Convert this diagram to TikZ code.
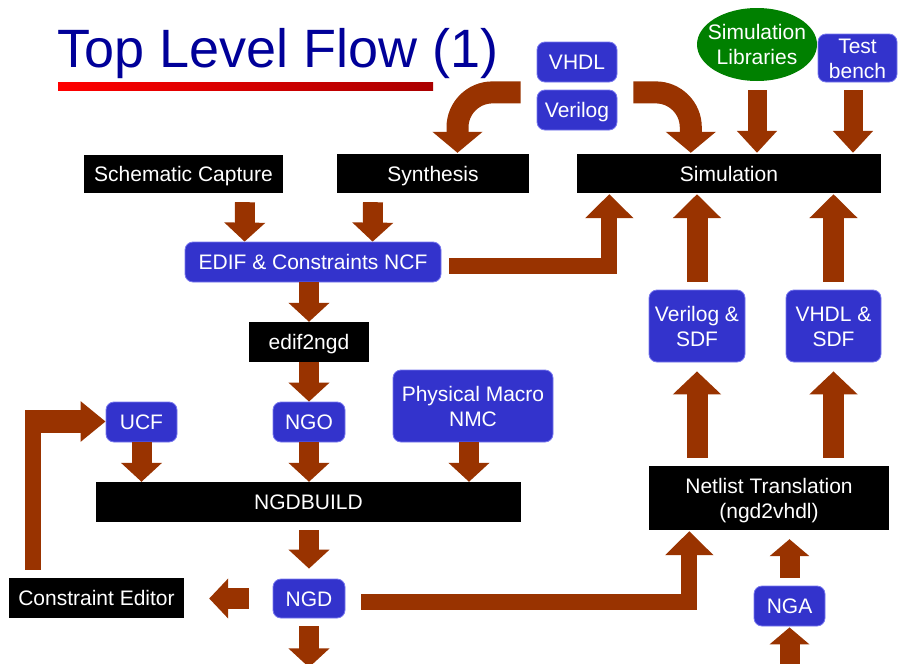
\documentclass[tikz,border=0pt]{standalone}
\usepackage{fontspec}
\setmainfont{Liberation Sans}
\usetikzlibrary{arrows.meta,calc,shapes.geometric}
\definecolor{arrowc}{HTML}{993300}
\definecolor{boxblue}{HTML}{3333CC}
\definecolor{boxedge}{HTML}{7777EE}
\definecolor{libgreen}{HTML}{008000}
\definecolor{titleblue}{HTML}{000099}
\definecolor{darkred}{HTML}{AA0000}
\begin{document}
\begin{tikzpicture}[x=1pt,y=-1pt,
  txt/.style={text=white, font=\fontsize{21}{25}\selectfont, align=center, inner sep=0pt, anchor=center},
  one/.style={text height=15pt, text depth=0pt},
  two/.style={text height=40pt, text depth=0pt},
  bluebox/.style={txt, fill=boxblue, draw=boxedge, line width=0.8pt, rounded corners=8pt},
  blackbox/.style={txt, fill=black},
  libell/.style={txt, ellipse, fill=libgreen, draw=none, inner xsep=-8pt},
  barrow/.style={draw=arrowc, line width=20pt, -{Triangle[width=40pt,length=19pt]}},
  bigarrow/.style={draw=arrowc, line width=21pt, -{Triangle[width=47pt,length=24pt]}},
  elbowarrow/.style={draw=arrowc, line width=16pt, -{Triangle[width=47pt,length=24pt]}},
  bentarrow/.style={draw=arrowc, line width=22pt, rounded corners=35pt, -{Triangle[width=49pt,length=21pt]}},
]
\clip (0,0) rectangle (908,664);
\fill[white] (0,0) rectangle (908,664);

% title
\node[anchor=base west, text=titleblue, font=\fontsize{54}{60}\selectfont, inner sep=0pt] (title) at (57,67) {Top Level Flow (1)};
\shade[left color=red, right color=darkred] (58,82) rectangle (433,90);

% nodes
\node[bluebox, one, minimum width=80pt, minimum height=40pt] (vhdl) at (577,62) {VHDL};
\node[bluebox, one, minimum width=80pt, minimum height=40pt] (verilog) at (577,110) {Verilog};
\node[libell, two, minimum width=120pt, minimum height=73pt] (simlib) at (757,44.5) {Simulation\\Libraries};
\node[bluebox, two, minimum width=79pt, minimum height=48pt] (tb) at (857.5,58) {Test\\bench};
\node[blackbox, one, minimum width=199pt, minimum height=38pt] (sch) at (183.5,174) {Schematic Capture};
\node[blackbox, one, minimum width=192pt, minimum height=39pt] (syn) at (433,173.5) {Synthesis};
\node[blackbox, one, minimum width=304pt, minimum height=39pt] (sim) at (729,173.5) {Simulation};
\node[bluebox, one, minimum width=256pt, minimum height=40pt] (edif) at (313,262) {EDIF \& Constraints NCF};
\node[blackbox, one, minimum width=120pt, minimum height=40pt] (e2n) at (309,342) {edif2ngd};
\node[bluebox, two, minimum width=160pt, minimum height=72pt] (pm) at (473,406) {Physical Macro\\NMC};
\node[bluebox, one, minimum width=71pt, minimum height=40pt] (ucf) at (141.5,422) {UCF};
\node[bluebox, one, minimum width=72pt, minimum height=40pt] (ngo) at (309,422) {NGO};
\node[blackbox, one, minimum width=425pt, minimum height=40pt] (ngdb) at (308.5,502) {NGDBUILD};
\node[bluebox, one, minimum width=72pt, minimum height=39pt] (ngd) at (309,598.5) {NGD};
\node[blackbox, one, minimum width=175pt, minimum height=40pt] (ce) at (96.5,598) {Constraint Editor};
\node[bluebox, two, minimum width=96pt, minimum height=72pt] (vsdf) at (697,326) {Verilog \&\\SDF};
\node[bluebox, two, minimum width=95pt, minimum height=72pt] (hsdf) at (833.5,326) {VHDL \&\\SDF};
\node[blackbox, two, minimum width=240pt, minimum height=64pt] (nt) at (769,498) {Netlist Translation\\(ngd2vhdl)};
\node[bluebox, one, minimum width=71pt, minimum height=40pt] (nga) at (789.5,606) {NGA};

% arrows
\draw[barrow] ($(sch.south)+(61.5,9)$) -- ($(edif.north west)+(60,0)$);
\draw[barrow] ($(syn.south)+(-60,9)$) -- ($(edif.north west)+(188,0)$);
\draw[barrow] ($(edif.south)+(-4,0)$) -- (e2n.north);
\draw[barrow] (e2n.south) -- (ngo.north);
\draw[barrow] (ucf.south) -- (ucf.south |- ngdb.north);
\draw[barrow] (ngo.south) -- (ngo.south |- ngdb.north);
\draw[barrow] ($(pm.south)+(-4,0)$) -- ($(pm.south |- ngdb.north)+(-4,0)$);
\draw[barrow] ($(ngd.north |- ngdb.south)+(0,8)$) -- ($(ngd.north)+(0,-10)$);
\draw[barrow] ($(ngd.south)+(0,8)$) -- ($(ngd.south)+(0,49)$);
\draw[draw=arrowc, line width=21pt, -{Triangle[width=39pt,length=19pt]}] ($(ngd.west)+(-24,0)$) -- ($(ce.east)+(25,0.5)$);
\draw[draw=arrowc, line width=16pt] ($(ce.north west)+(24,-8)$) -- ($(ce.north west |- ucf.north)+(24,8)$);
\draw[draw=arrowc, line width=23pt, -{Triangle[width=39pt,length=25pt]}] ($(ce.north west |- ucf.west)+(32,-0.5)$) -- ($(ucf.west)+(0,-0.5)$);
\draw[elbowarrow] ($(ngd.east)+(16,3.5)$) -| ($(nt.south west)+(40.5,1)$);
\draw[elbowarrow] ($(edif.east)+(8,4)$) -| ($(sim.south west)+(32.5,1)$);
\draw[bigarrow] ($(vsdf.north)+(0,-8)$) -- ($(vsdf.north |- sim.south)+(0,1)$);
\draw[bigarrow] ($(hsdf.north)+(0,-8)$) -- ($(hsdf.north |- sim.south)+(0,1)$);
\draw[draw=arrowc, line width=21pt, -{Triangle[width=47pt,length=23pt]}] ($(vsdf.south |- nt.north)+(0,-8)$) -- ($(vsdf.south)+(0,9)$);
\draw[draw=arrowc, line width=21pt, -{Triangle[width=47pt,length=23pt]}] ($(hsdf.south |- nt.north)+(0,-8)$) -- ($(hsdf.south)+(0,9)$);
\draw[draw=arrowc, line width=20pt, -{Triangle[width=39pt,length=17pt]}] ($(nga.north)+(0,-8)$) -- ($(nga.north |- nt.south)+(0,9)$);
\draw[draw=arrowc, line width=20pt, -{Triangle[width=39pt,length=17pt]}] ($(nga.south)+(0,44)$) -- ($(nga.south)+(0,1)$);
\draw[draw=arrowc, line width=19pt, -{Triangle[width=39pt,length=22pt]}] ($(simlib.south)+(0,9)$) -- ($(simlib.south |- sim.north)+(0,-1)$);
\draw[draw=arrowc, line width=19pt, -{Triangle[width=39pt,length=22pt]}] ($(tb.south)+(-4.5,8)$) -- ($(tb.south |- sim.north)+(-4.5,-1)$);
\draw[bentarrow] ($(vhdl.south west)+(-16,10)$) -| ($(syn.north)+(24.5,-1)$);
\draw[bentarrow] ($(vhdl.south east)+(16,10)$) -| ($(sim.north west)+(114,-1)$);
\end{tikzpicture}
\end{document}
